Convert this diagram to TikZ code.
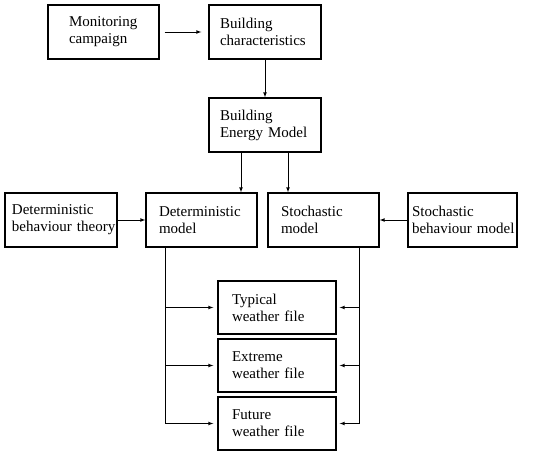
\documentclass[tikz,border=0pt]{standalone}
\usepackage{fontspec}
\setmainfont{Liberation Serif}
\usetikzlibrary{positioning}
\usetikzlibrary{arrows}

\tikzset{
  block/.style = {draw, line width=1.4pt, minimum height=54pt, align=left, font=\fontsize{15}{17}\selectfont},
  flow/.style = {->, >=latex, line width=0.7pt}
}

\begin{document}
\begin{tikzpicture}[x=1pt, y=-1pt]
\useasboundingbox (0,0) rectangle (550,455);

\node[block, text width=69pt, inner xsep=21pt] at (103.5,32) (mon) {Monitoring\\campaign};
\node[block, text width=90pt, inner xsep=11pt] at (265,32) (bchar) {Building\\characteristics};
\node[block, text width=90pt, inner xsep=11pt] at (265,125) (bem) {Building\\Energy Model};

\node[block, text width=98pt, inner xsep=7pt] at (61,220) (dbt) {Deterministic\\\mbox{behaviour theory}};
\node[block, text width=85pt, inner xsep=13pt] at (201.5,220) (dmod) {Deterministic\\model};
\node[block, text width=85pt, inner xsep=13pt] at (323.5,220) (smod) {Stochastic\\model};
\node[block, text width=101pt, inner xsep=4pt] at (462.5,220) (sbm) {Stochastic\\\mbox{behaviour model}};

\node[block, text width=90pt, inner xsep=14pt, minimum height=53pt] at (277,307.5) (typ) {Typical\\weather file};
\node[block, text width=90pt, inner xsep=14pt, minimum height=53pt] at (277,365.5) (ext) {Extreme\\weather file};
\node[block, text width=90pt, inner xsep=14pt, minimum height=53pt] at (277,423.5) (fut) {Future\\weather file};

\draw[flow, shorten <=5pt, shorten >=7pt] (mon) -- (bchar);
\draw[flow] (bchar) -- (bem);
\draw[flow] ([xshift=-24pt]bem.south) -- ([xshift=-24pt]bem.south |- dmod.north);
\draw[flow] ([xshift=23pt]bem.south) -- ([xshift=23pt]bem.south |- smod.north);
\draw[flow] (dbt) -- (dmod);
\draw[flow] (sbm) -- (smod);

% weather files
\coordinate (dl) at ([xshift=20pt]dmod.south west);
\coordinate (sr) at ([xshift=-20pt]smod.south east);
\draw[line width=0.7pt] (dl) -- (dl |- fut.west);
\draw[line width=0.7pt] (sr) -- (sr |- fut.east);
\foreach \w in {typ, ext, fut} {
  \draw[flow, shorten >=4pt] (dl |- \w.west) -- (\w.west); % right
  \draw[flow, shorten >=3pt] (sr |- \w.east) -- (\w.east); % left
}

\end{tikzpicture}
\end{document}
